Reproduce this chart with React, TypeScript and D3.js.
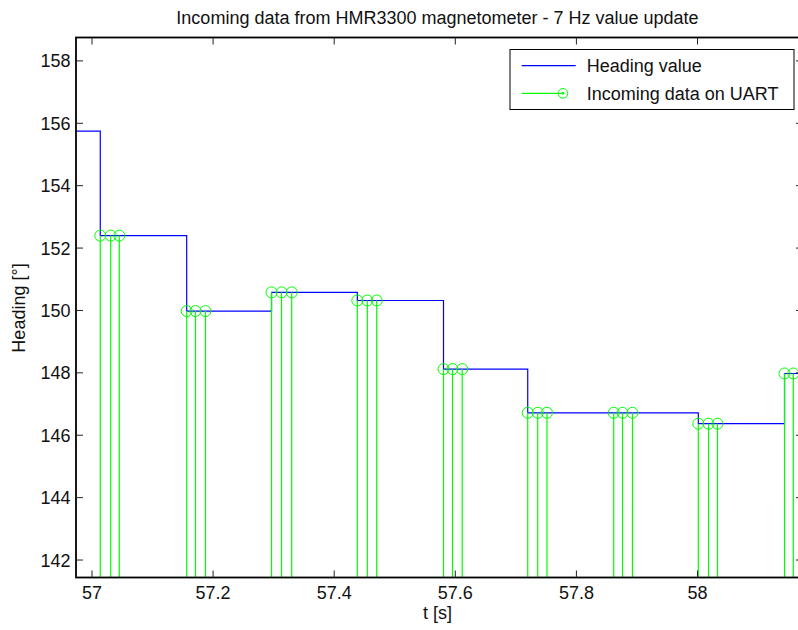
import React from "react";
import * as d3 from "d3";

// Time stamps [s] of the UART samples and the heading each one carried [°]
const sampleTimes = [
  57.0137, 57.0309, 57.0451,
  57.1564, 57.1709, 57.1874,
  57.2965, 57.313, 57.3298,
  57.4382, 57.4547, 57.4702,
  57.5805, 57.5954, 57.6114,
  57.7196, 57.7361, 57.7514,
  57.8616, 57.8761, 57.8926,
  58.0013, 58.0182, 58.033,
  58.1437, 58.1582,
];
const sampleValues = [
  152.4, 152.4, 152.4,
  149.98, 149.98, 149.98,
  150.58, 150.58, 150.58,
  150.32, 150.32, 150.32,
  148.12, 148.12, 148.12,
  146.72, 146.72, 146.72,
  146.72, 146.72, 146.72,
  146.37, 146.37, 146.37,
  147.98, 147.98,
];

// Held heading value (zero-order hold between updates)
const headingTimes = [56.95, 57.0137, 57.1564, 57.2965, 57.4382, 57.5805, 57.7196, 58.0013, 58.1437, 58.25];
const headingValues = [155.75, 152.4, 149.98, 150.58, 150.32, 148.12, 146.72, 146.37, 147.98, 147.98];

const xTicks = [57, 57.2, 57.4, 57.6, 57.8, 58];
const yTicks = [142, 144, 146, 148, 150, 152, 154, 156, 158];
const xDomain: [number, number] = [56.9736, 58.1742];
const yDomain: [number, number] = [141.44, 158.75];

const titleText = "Incoming data from HMR3300 magnetometer - 7 Hz value update";
const xLabel = "t [s]";
const yLabel = "Heading [°]";
const legendLabels = ["Heading value", "Incoming data on UART"];

const W = 798;
const H = 630;
const plot = { left: 76, top: 37.5, right: 803, bottom: 577.5 };
const FONT = "'Liberation Sans', Arial, Helvetica, sans-serif";
const BLUE = "#0000ff";
const GREEN = "#00ff00";

export default function App() {
  const x = d3.scaleLinear().domain(xDomain).range([plot.left, plot.right]);
  const y = d3.scaleLinear().domain(yDomain).range([plot.bottom, plot.top]);

  const stair = d3
    .line<number>()
    .x((i) => x(headingTimes[i]))
    .y((i) => y(headingValues[i]))
    .curve(d3.curveStepAfter)(headingTimes.map((_, i) => i)) as string;

  const tickLen = 7;

  return (
    <svg
      width={W}
      height={H}
      style={{ position: "absolute", left: 0, top: 0, background: "#fff" }}
      fontFamily={FONT}
    >
      <defs>
        <clipPath id="plotArea">
          <rect x={plot.left} y={plot.top} width={plot.right - plot.left} height={plot.bottom - plot.top} />
        </clipPath>
      </defs>
      <rect x={0} y={0} width={W} height={H} fill="#fff" />

      <g clipPath="url(#plotArea)">
        <path d={stair} fill="none" stroke={BLUE} strokeWidth={1.2} />
        {sampleTimes.map((t, i) => (
          <line
            key={`s${i}`}
            x1={x(t)}
            x2={x(t)}
            y1={y(0) > plot.bottom ? plot.bottom + 5 : y(0)}
            y2={y(sampleValues[i])}
            stroke={GREEN}
            strokeWidth={1.2}
          />
        ))}
        {sampleTimes.map((t, i) => (
          <circle
            key={`c${i}`}
            cx={x(t)}
            cy={y(sampleValues[i])}
            r={5.5}
            fill="none"
            stroke={GREEN}
            strokeWidth={1}
          />
        ))}
      </g>

      {/* axis box */}
      <rect
        x={plot.left}
        y={plot.top}
        width={plot.right - plot.left}
        height={plot.bottom - plot.top}
        fill="none"
        stroke="#000"
        strokeWidth={1.8}
      />

      {/* x ticks, bottom and top */}
      {xTicks.map((t) => (
        <g key={`xt${t}`}>
          <line x1={x(t)} x2={x(t)} y1={plot.bottom} y2={plot.bottom - tickLen} stroke="#222" strokeWidth={1} />
          <line x1={x(t)} x2={x(t)} y1={plot.top} y2={plot.top + tickLen} stroke="#222" strokeWidth={1} />
          <text x={x(t)} y={599} textAnchor="middle" fontSize={18} fill="#111">
            {d3.format("~g")(t)}
          </text>
        </g>
      ))}

      {/* y ticks, left and right */}
      {yTicks.map((v) => (
        <g key={`yt${v}`}>
          <line x1={plot.left} x2={plot.left + tickLen} y1={y(v)} y2={y(v)} stroke="#222" strokeWidth={1} />
          <line x1={plot.right} x2={plot.right - tickLen} y1={y(v)} y2={y(v)} stroke="#222" strokeWidth={1} />
          <text x={70.5} y={y(v) + 6.5} textAnchor="end" fontSize={18} fill="#111">
            {v}
          </text>
        </g>
      ))}

      {/* title and axis labels */}
      <text x={437.5} y={24} textAnchor="middle" fontSize={18} fill="#111">
        {titleText}
      </text>
      <text x={437.5} y={619} textAnchor="middle" fontSize={18} fill="#111">
        {xLabel}
      </text>
      <text transform="translate(25,308) rotate(-90)" textAnchor="middle" fontSize={18} fill="#111">
        {yLabel}
      </text>

      {/* legend */}
      <g>
        <rect x={510} y={49.5} width={284} height={60} fill="#fff" stroke="#000" strokeWidth={1} />
        <line x1={521.7} x2={575.7} y1={65.7} y2={65.7} stroke={BLUE} strokeWidth={1.2} />
        <text x={586.7} y={72.3} fontSize={18} fill="#111">
          {legendLabels[0]}
        </text>
        <line x1={521.7} x2={563} y1={93.3} y2={93.3} stroke={GREEN} strokeWidth={1.2} />
        <circle cx={563} cy={93.3} r={4.8} fill="none" stroke={GREEN} strokeWidth={1} />
        <circle cx={563} cy={93.3} r={1.3} fill={GREEN} />
        <text x={586.7} y={100} fontSize={18} fill="#111">
          {legendLabels[1]}
        </text>
      </g>
    </svg>
  );
}
